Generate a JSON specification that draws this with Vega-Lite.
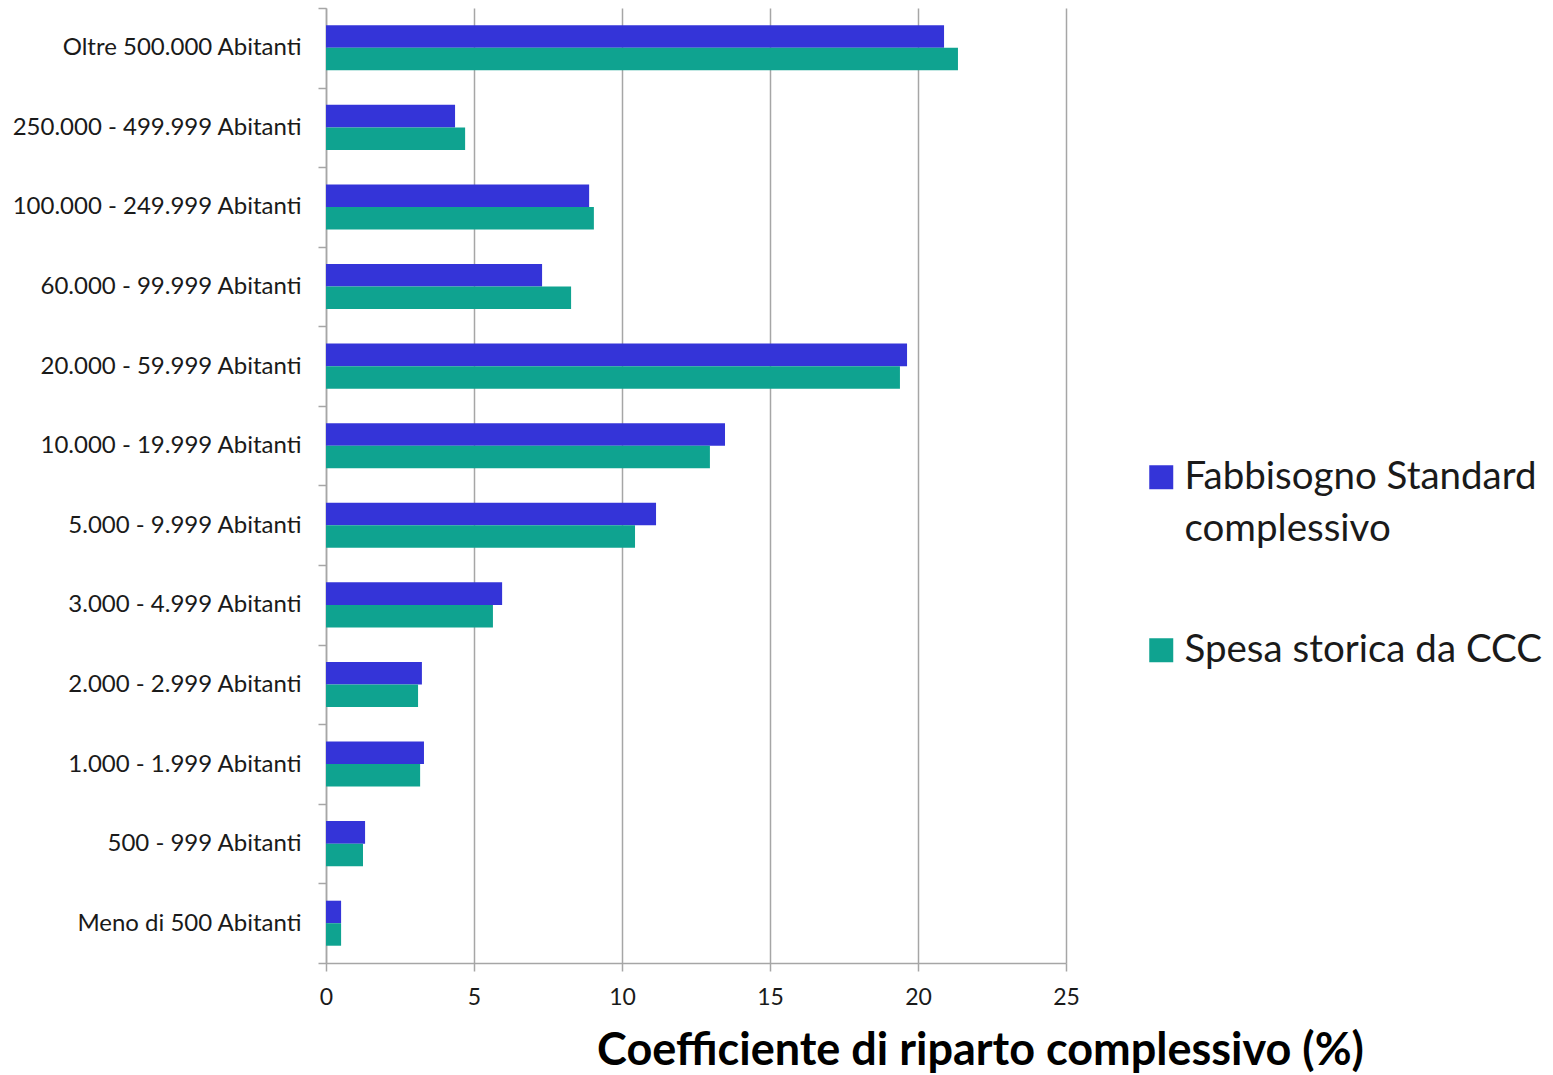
{
  "$schema": "https://vega.github.io/schema/vega-lite/v6.json",
  "width": 740,
  "height": 955,
  "autosize": {"type": "none"},
  "padding": {"left": 326, "top": 8, "right": 487, "bottom": 112},
  "config": {"view": {"stroke": null}, "font": "Lato", "style": {"guide-label": {"lineHeight": 52}}},
  "data": {
    "values": [
      {"categoria": "Oltre 500.000 Abitanti", "serie": "Fabbisogno Standard complessivo", "valore": 20.88},
      {"categoria": "Oltre 500.000 Abitanti", "serie": "Spesa storica da CCC", "valore": 21.35},
      {"categoria": "250.000 - 499.999 Abitanti", "serie": "Fabbisogno Standard complessivo", "valore": 4.36},
      {"categoria": "250.000 - 499.999 Abitanti", "serie": "Spesa storica da CCC", "valore": 4.70},
      {"categoria": "100.000 - 249.999 Abitanti", "serie": "Fabbisogno Standard complessivo", "valore": 8.89},
      {"categoria": "100.000 - 249.999 Abitanti", "serie": "Spesa storica da CCC", "valore": 9.05},
      {"categoria": "60.000 - 99.999 Abitanti", "serie": "Fabbisogno Standard complessivo", "valore": 7.30},
      {"categoria": "60.000 - 99.999 Abitanti", "serie": "Spesa storica da CCC", "valore": 8.28},
      {"categoria": "20.000 - 59.999 Abitanti", "serie": "Fabbisogno Standard complessivo", "valore": 19.63},
      {"categoria": "20.000 - 59.999 Abitanti", "serie": "Spesa storica da CCC", "valore": 19.39},
      {"categoria": "10.000 - 19.999 Abitanti", "serie": "Fabbisogno Standard complessivo", "valore": 13.48},
      {"categoria": "10.000 - 19.999 Abitanti", "serie": "Spesa storica da CCC", "valore": 12.97},
      {"categoria": "5.000 - 9.999 Abitanti", "serie": "Fabbisogno Standard complessivo", "valore": 11.15},
      {"categoria": "5.000 - 9.999 Abitanti", "serie": "Spesa storica da CCC", "valore": 10.44},
      {"categoria": "3.000 - 4.999 Abitanti", "serie": "Fabbisogno Standard complessivo", "valore": 5.95},
      {"categoria": "3.000 - 4.999 Abitanti", "serie": "Spesa storica da CCC", "valore": 5.64},
      {"categoria": "2.000 - 2.999 Abitanti", "serie": "Fabbisogno Standard complessivo", "valore": 3.24},
      {"categoria": "2.000 - 2.999 Abitanti", "serie": "Spesa storica da CCC", "valore": 3.11},
      {"categoria": "1.000 - 1.999 Abitanti", "serie": "Fabbisogno Standard complessivo", "valore": 3.31},
      {"categoria": "1.000 - 1.999 Abitanti", "serie": "Spesa storica da CCC", "valore": 3.18},
      {"categoria": "500 - 999 Abitanti", "serie": "Fabbisogno Standard complessivo", "valore": 1.32},
      {"categoria": "500 - 999 Abitanti", "serie": "Spesa storica da CCC", "valore": 1.25},
      {"categoria": "Meno di 500 Abitanti", "serie": "Fabbisogno Standard complessivo", "valore": 0.51},
      {"categoria": "Meno di 500 Abitanti", "serie": "Spesa storica da CCC", "valore": 0.51}
    ]
  },
  "mark": {"type": "bar"},
  "encoding": {
    "y": {
      "field": "categoria",
      "type": "nominal",
      "sort": null,
      "scale": {"paddingInner": 0, "paddingOuter": 0},
      "axis": {
        "title": null,
        "tickBand": "extent",
        "tickSize": 8,
        "tickColor": "#a6a6a6",
        "tickWidth": 1.5,
        "domainColor": "#a6a6a6",
        "domainWidth": 1.5,
        "labelPadding": 17,
        "labelFontSize": 24,
        "labelColor": "#1a1a1a",
        "labelLimit": 400,
        "grid": false
      }
    },
    "yOffset": {
      "field": "serie",
      "sort": ["Fabbisogno Standard complessivo", "Spesa storica da CCC"],
      "scale": {"paddingInner": 0, "paddingOuter": 0.768}
    },
    "x": {
      "field": "valore",
      "type": "quantitative",
      "scale": {"domain": [0, 25], "nice": false},
      "axis": {
        "values": [0, 5, 10, 15, 20, 25],
        "grid": true,
        "gridColor": "#a6a6a6",
        "gridWidth": 1.5,
        "tickSize": 8,
        "tickColor": "#a6a6a6",
        "tickWidth": 1.5,
        "domainColor": "#a6a6a6",
        "domainWidth": 1.5,
        "labelFontSize": 23,
        "labelColor": "#1a1a1a",
        "labelPadding": 15,
        "labelFlush": false,
        "title": "Coefficiente di riparto complessivo (%)",
        "titleFontSize": 45,
        "titleFontWeight": "bold",
        "titleColor": "#000000",
        "titleX": 654,
        "titleY": 87,
        "titleAlign": "center",
        "titleBaseline": "middle"
      }
    },
    "color": {
      "field": "serie",
      "type": "nominal",
      "scale": {"domain": ["Fabbisogno Standard complessivo", "Spesa storica da CCC"], "range": ["#3434d8", "#0fa390"]},
      "legend": {
        "title": null,
        "orient": "none",
        "legendX": 816,
        "legendY": 450,
        "symbolType": "square",
        "symbolSize": 576,
        "symbolStrokeWidth": 0,
        "labelFontSize": 38.5,
        "labelColor": "#1a1a1a",
        "labelOffset": 4,
        "labelLimit": 500,
        "rowPadding": 82,
        "labelExpr": "datum.label == 'Fabbisogno Standard complessivo' ? ['Fabbisogno Standard', 'complessivo'] : datum.label"
      }
    }
  }
}
